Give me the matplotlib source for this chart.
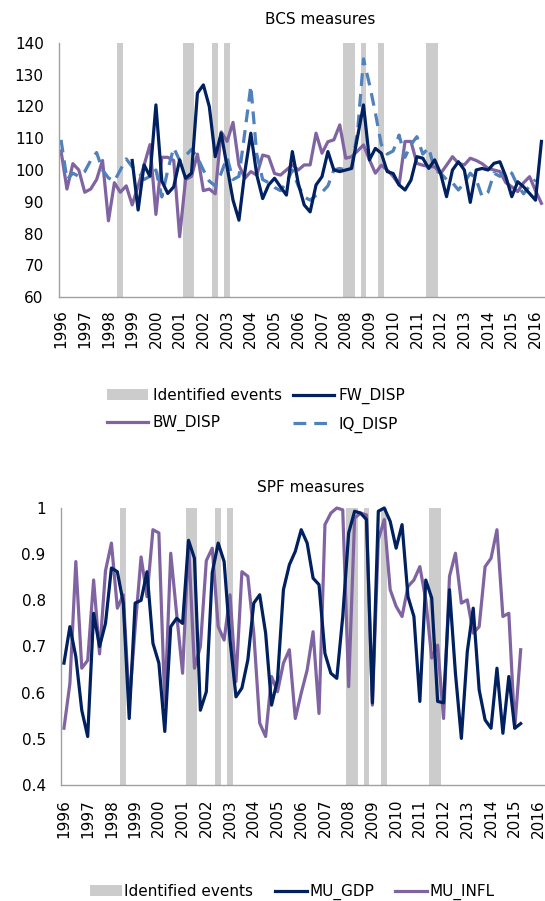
# BCS and SPF disagreement measures with identified event quarters
import numpy as np
import matplotlib.pyplot as plt
from matplotlib.patches import Patch
from matplotlib.lines import Line2D

plt.rcParams['font.family'] = ['DejaVu Sans']

# Data (quarterly, first observation 1996Q1)
start_year = 1996
year_labels = [str(y) for y in range(1996, 2017)]

events = ["1998Q3", "2001Q2", "2001Q3", "2002Q3", "2003Q1", "2008Q1", "2008Q2",
          "2008Q4", "2009Q3", "2011Q3", "2011Q4"]

fw_disp = [np.nan] * 12 + [
    103, 87.4, 101.6, 98, 120.5, 96.5, 92.6, 94.7, 103.2, 97.4, 99, 124.2, 126.8, 120,
    104.2, 111.6, 101, 90.5, 84.2, 99.5, 111.6, 98.5, 91, 95.3, 97.4, 94.7, 92.1, 105.8,
    95.8, 89, 86.8, 95.3, 97.9, 105.8, 100, 99.5, 100, 100.5, 110.5, 120.5, 103.2, 106.8,
    105.3, 99.5, 98.9, 95.3, 93.7, 96.8, 104.2, 103.7, 100.5, 103.2, 98.9, 91.6, 100, 102.6,
    100, 89.8, 100, 100.5, 100, 102.1, 102.6, 97.9, 91.6, 96.3, 94.7, 92.6, 90.5, 109]

bw_disp = [
    106, 94, 102, 100, 93, 94, 97, 103, 84, 96, 93, 95, 89, 95, 101.5, 108, 86, 104, 104,
    103, 79, 97, 98, 105, 93.5, 94, 92.5, 112, 109, 115, 101.5, 97.4, 99.5, 98.4, 104.7,
    104.2, 98.9, 98.4, 100, 101.6, 100, 101.6, 101.6, 111.6, 105.3, 108.9, 109.5, 114.2,
    103.7, 104.2, 106, 107.9, 103.2, 99, 101.5, 100, 98, 95.3, 109, 109, 102.1, 101.5,
    101.1, 101, 98.9, 101.5, 104.2, 102.1, 101.6, 103.7, 103, 102, 100.5, 100, 99.5, 96,
    94.7, 93.2, 96, 97.9, 93.5, 89.5]

iq_disp = [
    109.5, 97, 99, 98, 99.5, 103, 105.5, 100, 97.5, 96.5, 100, 103.5, 101, 99.5, 97, 98,
    100, 91.5, 100, 107, 103, 104.5, 106.5, 104, 100, 96.5, 95, 99, 104, 97, 98, 112,
    126.5, 105, 97, 96, 94.5, 93.5, 96, 100, 95, 91.5, 90.5, 92, 93, 95, 100, 100.5, 100,
    101, 112, 135, 127, 118, 108, 105, 106, 111, 104, 108, 110.5, 105, 107, 100, 99, 97,
    96, 93.7, 96, 99, 97, 91.6, 93, 99, 98, 100, 99, 95, 92.5, 95, 97]

mu_gdp = [
    0.664, 0.743, 0.678, 0.562, 0.505, 0.772, 0.70, 0.75, 0.87, 0.862, 0.794, 0.544,
    0.794, 0.80, 0.862, 0.707, 0.664, 0.516, 0.743, 0.761, 0.75, 0.93, 0.891, 0.562,
    0.602, 0.86, 0.924, 0.884, 0.714, 0.591, 0.61, 0.671, 0.794, 0.812, 0.729, 0.573,
    0.628, 0.823, 0.877, 0.906, 0.953, 0.924, 0.848, 0.834, 0.685, 0.642, 0.631, 0.765,
    0.946, 0.993, 0.989, 0.975, 0.578, 0.993, 1.0, 0.971, 0.913, 0.964, 0.808, 0.765,
    0.581, 0.844, 0.805, 0.581, 0.578, 0.823, 0.642, 0.501, 0.689, 0.783, 0.606, 0.541,
    0.523, 0.653, 0.512, 0.635, 0.523, 0.533]

mu_infl = [
    0.523, 0.62, 0.884, 0.653, 0.67, 0.844, 0.684, 0.864, 0.924, 0.783, 0.812, 0.575,
    0.74, 0.894, 0.808, 0.953, 0.946, 0.573, 0.902, 0.77, 0.642, 0.925, 0.653, 0.70,
    0.886, 0.913, 0.743, 0.714, 0.812, 0.624, 0.862, 0.852, 0.729, 0.534, 0.505, 0.635,
    0.602, 0.664, 0.693, 0.544, 0.599, 0.649, 0.732, 0.555, 0.964, 0.989, 1.0, 0.996,
    0.613, 0.978, 0.989, 0.985, 0.573, 0.931, 0.975, 0.823, 0.787, 0.765, 0.83, 0.844,
    0.873, 0.801, 0.675, 0.703, 0.544, 0.852, 0.902, 0.794, 0.801, 0.729, 0.743, 0.873,
    0.891, 0.953, 0.765, 0.772, 0.523, 0.693]

# Colours
NAVY = '#002060'
PURPLE = '#8064A2'
BLUE = '#4F81BD'
GREY = '#CCCCCC'
AXIS = '#A0A0A0'


def quarter_index(q):
    return (int(q[:4]) - start_year) * 4 + int(q[-1]) - 1


def style_axis(ax, ylim, yticks, ylabels, xlim, xpad):
    ax.set_xlim(*xlim)
    ax.set_ylim(*ylim)
    ax.set_yticks(yticks)
    ax.set_yticklabels(ylabels)
    ax.set_xticks(np.arange(0, 4 * len(year_labels), 4))
    ax.set_xticklabels(year_labels, rotation=90)
    ax.tick_params(axis='y', length=0, pad=11, labelsize=11)
    ax.tick_params(axis='x', length=0, pad=xpad, labelsize=11)
    for side in ['top', 'right']:
        ax.spines[side].set_visible(False)
    for side in ['left', 'bottom']:
        ax.spines[side].set_color(AXIS)
        ax.spines[side].set_linewidth(1)
    for q in events:
        i = quarter_index(q)
        ax.axvspan(i - 0.5, i + 0.5, color=GREY, lw=0, zorder=0)


fig = plt.figure(figsize=(5.45, 9.01), dpi=100)

# ---- BCS measures
ax1 = fig.add_axes([59 / 545, 1 - 297 / 901, 486 / 545, 254 / 901])
x_bcs = np.arange(len(bw_disp))
style_axis(ax1, (60, 140), range(60, 141, 10), [str(v) for v in range(60, 141, 10)],
           (-0.34, 81.6), 9)
ax1.plot(x_bcs, fw_disp, color=NAVY, lw=2.3, zorder=3)
ax1.plot(x_bcs, bw_disp, color=PURPLE, lw=2.3, zorder=2)
ax1.plot(np.arange(len(iq_disp)), iq_disp, color=BLUE, lw=2.3, dashes=(4, 2.5), zorder=2)
fig.text(320 / 545, 1 - 20 / 901, 'BCS measures', ha='center', va='center', fontsize=11)

h_events = Patch(facecolor=GREY, edgecolor='none')
h_fw = Line2D([], [], color=NAVY, lw=2.3)
h_bw = Line2D([], [], color=PURPLE, lw=2.3)
h_iq = Line2D([], [], color=BLUE, lw=2.3, dashes=(4, 2.5))
fig.legend([h_events, h_bw, h_fw, h_iq],
           ['Identified events', 'BW_DISP', 'FW_DISP', 'IQ_DISP'],
           ncol=2, loc='upper left', bbox_to_anchor=(107 / 545, 1 - 388 / 901),
           frameon=False, fontsize=11, handlelength=2.7, handletextpad=0.3,
           columnspacing=0.7, labelspacing=0.8, borderpad=0, borderaxespad=0)

# ---- SPF measures
ax2 = fig.add_axes([61 / 545, 1 - 785 / 901, 484 / 545, 277 / 901])
x_spf = np.arange(len(mu_gdp))
style_axis(ax2, (0.4, 1.0), np.arange(0.4, 1.01, 0.1),
           ['0.4', '0.5', '0.6', '0.7', '0.8', '0.9', '1'], (-0.5, 81.1), 10)
ax2.plot(x_spf, mu_gdp, color=NAVY, lw=2.3, zorder=3, clip_on=False)
ax2.plot(x_spf, mu_infl, color=PURPLE, lw=2.3, zorder=2, clip_on=False)
fig.text(311 / 545, 1 - 487 / 901, 'SPF measures', ha='center', va='center', fontsize=11)

h_gdp = Line2D([], [], color=NAVY, lw=2.3)
h_infl = Line2D([], [], color=PURPLE, lw=2.3)
fig.legend([h_events, h_gdp, h_infl], ['Identified events', 'MU_GDP', 'MU_INFL'],
           ncol=3, loc='upper left', bbox_to_anchor=(90 / 545, 1 - 884 / 901),
           frameon=False, fontsize=11, handlelength=2.1, handletextpad=0.15,
           columnspacing=1.4, borderpad=0, borderaxespad=0)

fig.savefig('out.png', dpi=100)
